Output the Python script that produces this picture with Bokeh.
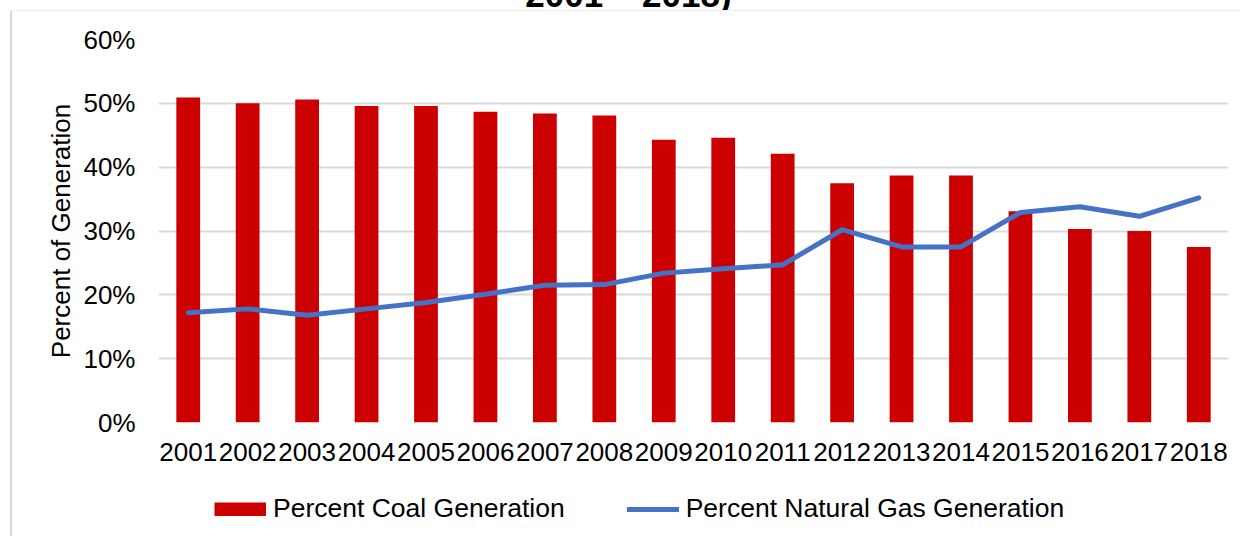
from bokeh.plotting import figure
from bokeh.models import (ColumnDataSource, Range1d, FactorRange, PrintfTickFormatter,
                          FixedTicker, Legend, LegendItem, Div)
from bokeh.layouts import column
from bokeh.embed import file_html
from bokeh.resources import INLINE

years = ["2001", "2002", "2003", "2004", "2005", "2006", "2007", "2008", "2009",
         "2010", "2011", "2012", "2013", "2014", "2015", "2016", "2017", "2018"]
coal_pct = [50.9, 50.0, 50.6, 49.6, 49.6, 48.7, 48.4, 48.1, 44.3,
            44.6, 42.1, 37.5, 38.7, 38.7, 33.1, 30.3, 30.0, 27.5]
gas_pct = [17.2, 17.8, 16.8, 17.8, 18.8, 20.1, 21.5, 21.6, 23.4,
           24.1, 24.7, 30.2, 27.5, 27.5, 32.9, 33.8, 32.3, 35.2]
y_ticks = [0, 10, 20, 30, 40, 50, 60]
title_tail = "2001 – 2018)"
coal_label = "Percent Coal Generation"
gas_label = "Percent Natural Gas Generation"

FONT = "Liberation Sans"
COAL = "#cc0000"
GAS = "#4472c4"
src = ColumnDataSource(dict(year=years, coal=coal_pct, gas=gas_pct))

title_div = Div(
    text=('<div style="position:relative;top:-25px;width:1237px;text-align:center;'
          'font-family:\'Liberation Sans\';font-weight:bold;font-size:35px;'
          'line-height:40px;color:#000;white-space:nowrap">' + title_tail + '</div>'),
    width=1237, height=10, margin=(0, 0, 0, 10), styles={"overflow": "hidden"})

p = figure(x_range=FactorRange(factors=years), y_range=Range1d(0, 60),
           width=1230, height=469, output_backend="svg", toolbar_location=None,
           min_border_left=146, min_border_right=14, min_border_top=28, min_border_bottom=58)
p.margin = (0, 0, 0, 10)
p.styles = {"border-left": "2px solid #d9d9d9", "border-top": "1px solid #eeeeee"}
p.outline_line_color = None
p.background_fill_color = "white"
p.border_fill_color = "white"

p.xgrid.grid_line_color = None
p.ygrid.grid_line_color = "#d9d9d9"
p.ygrid.grid_line_width = 2

p.yaxis.ticker = FixedTicker(ticks=y_ticks)
p.yaxis.formatter = PrintfTickFormatter(format="%d%%")
for ax in (p.xaxis[0], p.yaxis[0]):
    ax.axis_line_color = None
    ax.major_tick_line_color = None
    ax.minor_tick_line_color = None
    ax.major_tick_out = 0
    ax.major_tick_in = 0
    ax.major_label_text_font = FONT
    ax.major_label_text_font_size = "26px"
    ax.major_label_text_color = "#000000"
p.yaxis.major_label_standoff = 23
p.xaxis.major_label_standoff = 20
p.yaxis.axis_label = "Percent of Generation"
p.yaxis.axis_label_text_font = FONT
p.yaxis.axis_label_text_font_size = "26px"
p.yaxis.axis_label_text_font_style = "normal"
p.yaxis.axis_label_text_color = "#000000"
p.yaxis.axis_label_standoff = 4

p.vbar(x="year", top="coal", bottom=0, width=0.4, source=src,
       fill_color=COAL, line_color=None)
p.line(x="year", y="gas", source=src, line_color=GAS, line_width=5,
       line_cap="round", line_join="round")

# legend strip below the chart (frame aligned with the chart's frame by the column)
lf = figure(width=1230, height=57, output_backend="svg", toolbar_location=None,
            x_axis_type=None, y_axis_type=None, x_range=Range1d(0, 1), y_range=Range1d(0, 1),
            min_border=0)
lf.margin = (0, 0, 0, 10)
lf.styles = {"border-left": "2px solid #d9d9d9"}
lf.outline_line_color = None
lf.xgrid.visible = False
lf.ygrid.visible = False
nan = float("nan")
coal_key = lf.line(x=[nan], y=[nan], line_color=COAL, line_width=14, line_cap="butt")
gas_key = lf.line(x=[nan], y=[nan], line_color=GAS, line_width=5, line_cap="round")
legend = Legend(items=[LegendItem(label=coal_label, renderers=[coal_key]),
                       LegendItem(label=gas_label, renderers=[gas_key])],
                location=(56, 12), orientation="horizontal",
                glyph_width=52, glyph_height=14, label_standoff=7, spacing=62,
                padding=0, margin=0, border_line_color=None,
                background_fill_alpha=0, label_text_font=FONT,
                label_text_font_size="26.5px", label_text_color="#000000")
lf.add_layout(legend, "center")

layout = column(title_div, p, lf, spacing=0)
open("out.html", "w").write(file_html(layout, INLINE))
